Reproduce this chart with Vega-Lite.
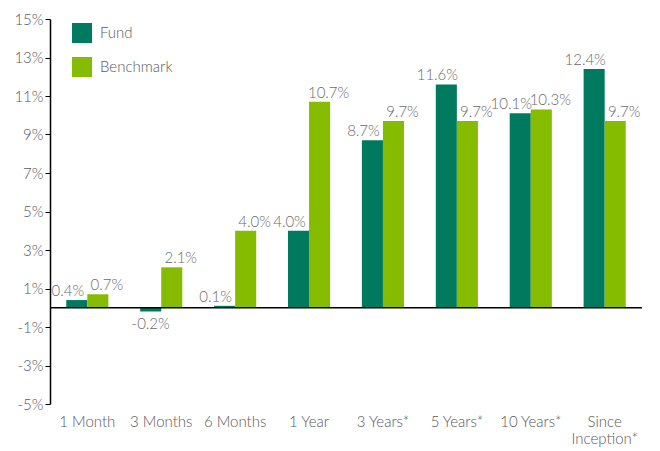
{
  "$schema": "https://vega.github.io/schema/vega-lite/v6.json",
  "width": 592,
  "height": 385,
  "autosize": {"type": "none"},
  "padding": {"left": 50, "top": 19, "right": 18, "bottom": 47},
  "config": {"view": {"stroke": null}, "font": "Lato", "text": {"font": "Lato"}},
  "data": {"values": [
    {"period": "1 Month", "series": "Fund", "value": 0.004},
    {"period": "1 Month", "series": "Benchmark", "value": 0.007},
    {"period": "3 Months", "series": "Fund", "value": -0.002},
    {"period": "3 Months", "series": "Benchmark", "value": 0.021},
    {"period": "6 Months", "series": "Fund", "value": 0.001},
    {"period": "6 Months", "series": "Benchmark", "value": 0.040},
    {"period": "1 Year", "series": "Fund", "value": 0.040},
    {"period": "1 Year", "series": "Benchmark", "value": 0.107},
    {"period": "3 Years*", "series": "Fund", "value": 0.087},
    {"period": "3 Years*", "series": "Benchmark", "value": 0.097},
    {"period": "5 Years*", "series": "Fund", "value": 0.116},
    {"period": "5 Years*", "series": "Benchmark", "value": 0.097},
    {"period": "10 Years*", "series": "Fund", "value": 0.101},
    {"period": "10 Years*", "series": "Benchmark", "value": 0.103},
    {"period": "Since Inception*", "series": "Fund", "value": 0.124},
    {"period": "Since Inception*", "series": "Benchmark", "value": 0.097}
  ]},
  "transform": [{"calculate": "replace(format(datum.value, '.1%'), '\u2212', '-')", "as": "label"}],
  "layer": [
    {
      "mark": {"type": "bar"},
      "encoding": {
        "x": {"field": "period", "type": "nominal", "sort": null,
          "scale": {"paddingInner": 0.43, "paddingOuter": 0.22},
          "axis": {"title": null, "domain": false, "ticks": false, "labelAngle": 0, "labelPadding": 10,
            "labelFontSize": 15, "labelColor": "#595959", "labelFontWeight": 300, "labelLineHeight": 17,
            "labelExpr": "datum.value == 'Since Inception*' ? ['Since', 'Inception*'] : datum.value"}},
        "xOffset": {"field": "series", "type": "nominal", "sort": ["Fund", "Benchmark"], "scale": {"paddingInner": 0, "paddingOuter": 0}},
        "y": {"field": "value", "type": "quantitative", "scale": {"domain": [-0.05, 0.15], "nice": false, "zero": false},
          "axis": {"title": null, "values": [-0.05, -0.03, -0.01, 0.01, 0.03, 0.05, 0.07, 0.09, 0.11, 0.13, 0.15], "tickCount": 30,
            "labelExpr": "replace(format(datum.value, '.0%'), '\u2212', '-')", "labelOverlap": false,
            "grid": false, "domainColor": "black", "domainWidth": 1.5, "tickColor": "black", "tickSize": 5, "tickWidth": 1,
            "labelFontSize": 15, "labelColor": "#595959", "labelFontWeight": 300, "labelPadding": 2}},
        "color": {"field": "series", "type": "nominal", "sort": ["Fund", "Benchmark"],
          "scale": {"domain": ["Fund", "Benchmark"], "range": ["#007A5F", "#85BC00"]},
          "legend": {"title": null, "orient": "none", "legendX": 22, "legendY": 4, "symbolType": "square", "symbolSize": 400,
            "symbolStrokeWidth": 0, "labelFontSize": 15, "labelColor": "#595959", "labelFontWeight": 300, "rowPadding": 14, "labelOffset": 8}}
      }
    },
    {
      "data": {"values": [{}]},
      "mark": {"type": "rule", "color": "black", "strokeWidth": 1.5},
      "encoding": {"y": {"datum": 0}}
    },
    {
      "transform": [{"filter": "datum.series == 'Fund' && datum.value >= 0"}],
      "mark": {"type": "text", "baseline": "alphabetic", "dy": -4, "dx": -9, "fontSize": 15, "fontWeight": 300, "color": "#6a6a6a"},
      "encoding": {
        "x": {"field": "period", "type": "nominal", "sort": null},
        "xOffset": {"field": "series", "type": "nominal", "sort": ["Fund", "Benchmark"]},
        "y": {"field": "value", "type": "quantitative"},
        "text": {"field": "label", "type": "nominal"}
      }
    },
    {
      "transform": [{"filter": "datum.series == 'Benchmark' && datum.value >= 0"}],
      "mark": {"type": "text", "baseline": "alphabetic", "dy": -4, "dx": 9, "fontSize": 15, "fontWeight": 300, "color": "#6a6a6a"},
      "encoding": {
        "x": {"field": "period", "type": "nominal", "sort": null},
        "xOffset": {"field": "series", "type": "nominal", "sort": ["Fund", "Benchmark"]},
        "y": {"field": "value", "type": "quantitative"},
        "text": {"field": "label", "type": "nominal"}
      }
    },
    {
      "transform": [{"filter": "datum.value < 0"}],
      "mark": {"type": "text", "baseline": "top", "dy": 5, "fontSize": 15, "fontWeight": 300, "color": "#6a6a6a"},
      "encoding": {
        "x": {"field": "period", "type": "nominal", "sort": null},
        "xOffset": {"field": "series", "type": "nominal", "sort": ["Fund", "Benchmark"]},
        "y": {"field": "value", "type": "quantitative"},
        "text": {"field": "label", "type": "nominal"}
      }
    }
  ]
}
